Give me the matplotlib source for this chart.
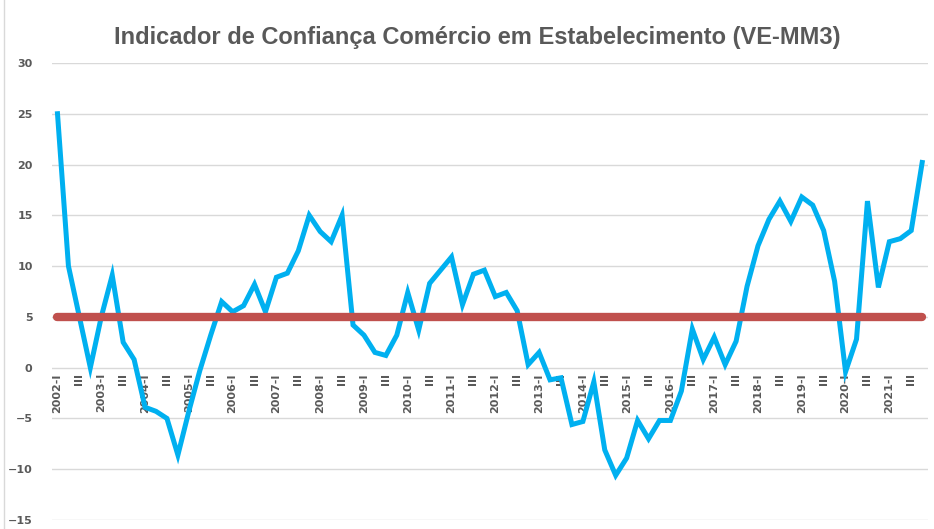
import numpy as np
import matplotlib.pyplot as plt

# quarters 2002-I .. 2021-IV
years = list(range(2002, 2022))
quarters = ['I', 'II', 'III', 'IV']

confianca = [25.0, 10.0, 5.0, 0.0, 5.0, 9.1, 2.5, 0.8,
             -3.9, -4.3, -5.0, -8.6, -4.3, -0.3, 3.2, 6.5,
             5.5, 6.1, 8.2, 5.5, 8.9, 9.3, 11.5, 15.0,
             13.4, 12.4, 15.0, 4.2, 3.2, 1.5, 1.2, 3.2,
             7.4, 3.7, 8.3, 9.6, 10.9, 6.2, 9.2, 9.6,
             7.0, 7.4, 5.6, 0.3, 1.5, -1.2, -1.0, -5.6,
             -5.3, -1.4, -8.1, -10.6, -8.9, -5.2, -7.0, -5.2,
             -5.2, -2.3, 3.8, 0.8, 3.0, 0.3, 2.6, 8.0,
             12.0, 14.6, 16.4, 14.4, 16.8, 16.0, 13.5, 8.5,
             -0.4, 2.8, 16.4, 7.9, 12.4, 12.7, 13.5, 20.2]
referencia = [5.0] * len(confianca)

labels = []
for y in years:
    for q in quarters:
        labels.append(f'{y}-{q}')

x = np.arange(len(confianca))
cinza = '#595959'

fig = plt.figure(figsize=(9.34, 5.29), dpi=100)
ax = fig.add_axes([0.0557, 0.017, 0.9375, 0.864])

ax.plot(x, confianca, color='#00B0F0', lw=3.6, solid_joinstyle='miter', zorder=3)
ax.plot(x, referencia, color='#C0504D', lw=6, solid_capstyle='round', zorder=4)

ax.set_xlim(-0.5, len(confianca) - 0.5)
ax.set_ylim(-15, 30)
ax.set_yticks(np.arange(-15, 31, 5))
ax.grid(axis='y', color='#D9D9D9', lw=1)
ax.set_axisbelow(True)

# category axis crosses at zero (set before labels: it resets the ticks)
ax.spines['bottom'].set_position(('data', 0))
for s in ax.spines.values():
    s.set_visible(False)

# category labels every second quarter
tick_pos = x[::2]
tick_lab = [labels[i] if labels[i].endswith('-I') else 'III' for i in tick_pos]
ax.set_xticks(tick_pos)
ax.set_xticklabels(tick_lab, rotation=90, va='top', ha='center',
                   fontsize=8, fontweight='bold', color=cinza,
                   family=['Liberation Sans Narrow', 'DejaVu Sans'])
ax.tick_params(axis='x', length=0, pad=4)
ax.tick_params(axis='y', length=0, pad=14, labelsize=8, labelcolor=cinza)
for t in ax.get_yticklabels():
    t.set_fontweight('bold')

fig.text(0.511, 0.93, 'Indicador de Confiança Comércio em Estabelecimento (VE-MM3)',
         ha='center', va='center', fontsize=17, fontweight='bold', color=cinza,
         family=['Liberation Sans', 'DejaVu Sans'])

fig.patches.append(plt.Rectangle((0.004, -0.01), 1.0, 1.02, transform=fig.transFigure,
                                 fill=False, edgecolor='#D9D9D9', lw=1))

fig.savefig('out.png', dpi=100)
